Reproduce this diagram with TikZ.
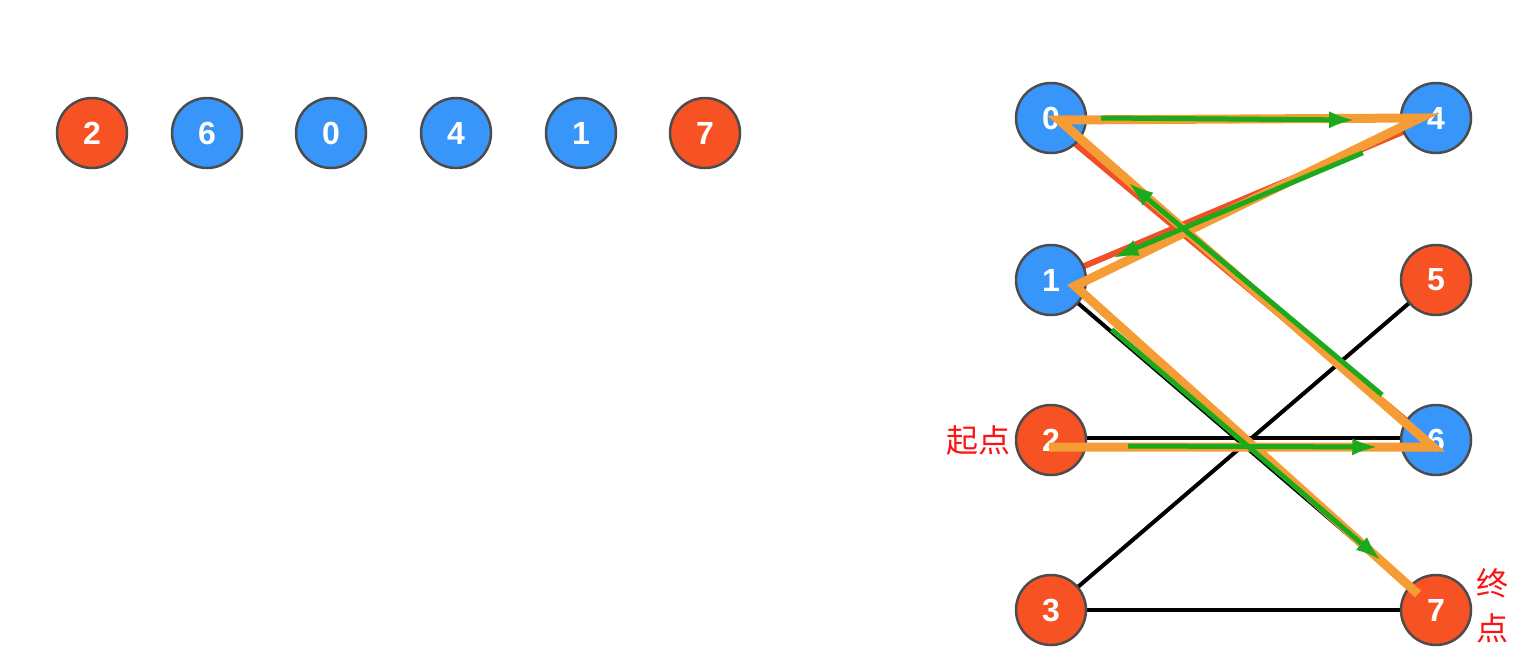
\documentclass[tikz,border=0pt]{standalone}
\usepackage{fontspec}
\newfontfamily\numfont{Liberation Sans}
\newfontfamily\cjk{Noto Sans CJK SC}
\usetikzlibrary{positioning,arrows.meta,calc}
\definecolor{NodeRed}{RGB}{246,82,36}
\definecolor{NodeBlue}{RGB}{56,150,250}
\definecolor{PathOrange}{RGB}{246,156,52}
\definecolor{ArrowGreen}{RGB}{28,170,28}
\definecolor{EdgeRed}{RGB}{240,80,40}
\definecolor{LabelRed}{RGB}{250,20,20}

\begin{document}
\begin{tikzpicture}[
x=1pt,y=-1pt,
vert/.style={
circle,draw=black!70,line width=2.5pt,
minimum size=70pt,inner sep=0pt,
text=white,font=\numfont\bfseries\fontsize{32}{34}\selectfont
},
redv/.style={vert,fill=NodeRed},
bluev/.style={vert,fill=NodeBlue},
edge/.style={line width=4pt,draw=black},
matched/.style={line width=6pt,draw=EdgeRed},
route/.style={line width=9pt,draw=PathOrange,line join=miter},
arrow/.style={-{Latex[length=26pt,width=17pt]},line width=5pt,draw=ArrowGreen},
tag/.style={text=LabelRed,font=\cjk\fontsize{32}{34}\selectfont,inner sep=0pt}
]

\useasboundingbox (0,0) rectangle (1536,659);

% order of the vertices
\node[redv] (s2) at (92,133) {2};
\node[bluev] (s6) at (207,133) {6};
\node[bluev] (s0) at (331,133) {0};
\node[bluev] (s4) at (456,133) {4};
\node[bluev] (s1) at (581,133) {1};
\node[redv] (s7) at (705,133) {7};

% the bipartite graph
\coordinate (p0) at (1051,118);
\coordinate (p1) at (1051,280);
\coordinate (p2) at (1051,440);
\coordinate (p3) at (1051,610);
\coordinate (p4) at (1436,118);
\coordinate (p5) at (1436,280);
\coordinate (p6) at (1436,440);
\coordinate (p7) at (1436,610);

\draw[edge] ([yshift=2pt]p2)--([yshift=2pt]p6);
\draw[edge] (p3)--(p5);
\draw[edge] (p3)--(p7);
\draw[edge] (p1)--(p7);
\draw[matched] ([xshift=-3pt,yshift=-3pt]p0)--([xshift=-3pt,yshift=-3pt]p6);
\draw[matched] (p1)--(p4);

\node[bluev] (n0) at (p0) {0};
\node[bluev] (n1) at (p1) {1};
\node[redv] (n2) at (p2) {2};
\node[redv] (n3) at (p3) {3};
\node[bluev] (n4) at (p4) {4};
\node[redv] (n5) at (p5) {5};
\node[bluev] (n6) at (p6) {6};
\node[redv] (n7) at (p7) {7};

% augmenting path
\draw[route] ([xshift=-2pt,yshift=-7pt]n2.center)--([xshift=-3pt,yshift=-7pt]n6.center)
--([xshift=8pt,yshift=-2pt]n0.center)--([xshift=-16pt]n4.center)
--([xshift=24pt,yshift=-6pt]n1.center)--([xshift=-18pt,yshift=16pt]n7.center);

\draw[arrow] ($(n2)!0.2!(n6)+(0,6)$)--($(n2)!0.85!(n6)+(0,7)$);
\draw[arrow] ($(n6)!0.14!(n0)$)--($(n6)!0.8!(n0)$);
\draw[arrow] ($(n0)!0.13!(n4)$)--($(n0)!0.79!(n4)+(0,2)$);
\draw[arrow] ($(n4)!0.19!(n1)+(0,4)$)--($(n4)!0.84!(n1)+(0,4)$);
\draw[arrow] ($(n1)!0.15!(n7)+(3,0)$)--($(n1)!0.85!(n7)+(3,0)$);

\node[tag,left=4pt of n2] (start) {起点};
\node[tag] (endA) at ($(n7.east)+(20,-27)$) {终};
\node[tag] (endB) at ($(n7.east)+(20,18)$) {点};

\end{tikzpicture}
\end{document}
